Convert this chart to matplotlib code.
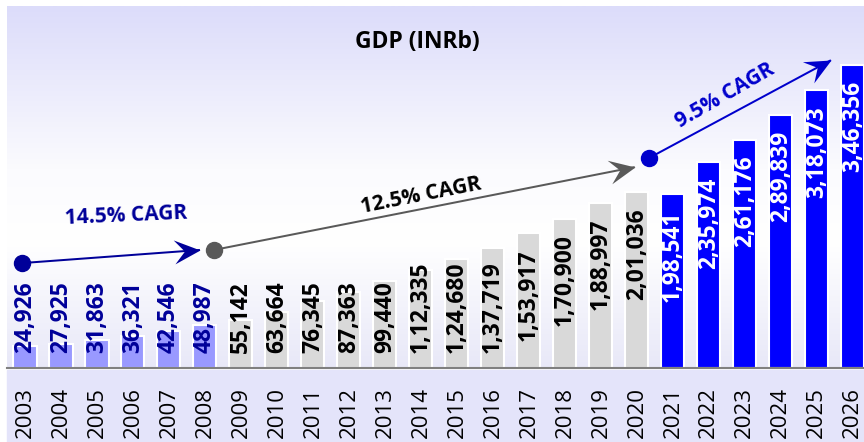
import numpy as np
import matplotlib
matplotlib.use("Agg")
import matplotlib.pyplot as plt
from matplotlib.colors import LinearSegmentedColormap
from matplotlib.path import Path
from matplotlib.patches import Rectangle

years = list(range(2003, 2027))
gdp = [24926, 27925, 31863, 36321, 42546, 48987, 55142, 63664, 76345, 87363,
       99440, 112335, 124680, 137719, 153917, 170900, 188997, 201036,
       198541, 235974, 261176, 289839, 318073, 346356]
# indian digit grouping as printed on the chart
labels = ["24,926", "27,925", "31,863", "36,321", "42,546", "48,987", "55,142",
          "63,664", "76,345", "87,363", "99,440", "1,12,335", "1,24,680",
          "1,37,719", "1,53,917", "1,70,900", "1,88,997", "2,01,036",
          "1,98,541", "2,35,974", "2,61,176", "2,89,839", "3,18,073", "3,46,356"]
period = ["early"] * 6 + ["mid"] * 12 + ["late"] * 6

bar_colors = {"early": "#9999ff", "mid": "#d9d9d9", "late": "#0000ff"}
text_colors = {"early": "#000099", "mid": "black", "late": "white"}

# CAGR arrows: (start index, start value, end index, end value)
cagr_arrows = [
    (-0.08, 120000, 4.86, 135000, "#000099"),
    (5.25, 135000, 16.94, 229800, "#595959"),
    (17.33, 240000, 22.39, 352000, "#0000cc"),
]
cagr_texts = [
    ("14.5% CAGR", 2.81, 173500, 2.5, "#000099"),
    ("12.5% CAGR", 11.0, 196600, 11.2, "black"),
    ("9.5% CAGR", 19.44, 311000, 30.0, "#0000cc"),
]

W, H = 864, 442
fig = plt.figure(figsize=(W / 100, H / 100), dpi=100)
plt.rcParams["font.family"] = ["Open Sans", "DejaVu Sans"]

left, base_y, top_y = 7, 368, 6
ax = fig.add_axes([left / W, (H - base_y) / H, 1 - left / W, (base_y - top_y) / H])
ax.set_xlim(-0.5, 23.31)
ax.set_ylim(0, 414000)

# background gradient above the axis and band below it
bg = LinearSegmentedColormap.from_list(
    "bg", [(0, "#e8e8f8"), (0.35, "#ffffff"), (0.55, "#fbfbfe"), (1, "#dcdcfa")])
grad = np.linspace(0, 1, 256).reshape(-1, 1)
ax.imshow(grad, cmap=bg, aspect="auto", extent=(-0.5, 23.31, 0, 414000),
          origin="lower", zorder=0)
band = Rectangle((left / W, 0), 1, (H - base_y - 2) / H,
                 transform=fig.transFigure, color="#e4e4fa", zorder=-1)
fig.patches.append(band)

x = np.arange(len(years))
ax.bar(x, gdp, width=0.64, color=[bar_colors[p] for p in period],
       edgecolor="white", linewidth=1.5, zorder=2)

for s in ["top", "left", "right"]:
    ax.spines[s].set_visible(False)
ax.spines["bottom"].set_color("#808080")
ax.spines["bottom"].set_linewidth(1.5)
ax.spines["bottom"].set_zorder(3)
ax.set_yticks([])
ax.set_xticks(x)
ax.set_xticklabels([str(y) for y in years], rotation=90, fontsize=16)
ax.tick_params(axis="x", length=0, pad=14)

fig.text(417 / W, 1 - 42 / H, "GDP (INRb)", ha="center", va="center",
         fontsize=16.5, fontweight="bold")

# value labels: inside the top of the bar, but never lower than the floor
px = 72 / 100
fig.canvas.draw()
renderer = fig.canvas.get_renderer()
floor = ax.transData.transform((0, 0))[1] + 15
for i, (v, lab, p) in enumerate(zip(gdp, labels, period)):
    t = ax.annotate(lab, (i, v), xytext=(0, -16 * px), textcoords="offset points",
                    rotation=90, ha="center", va="top", fontsize=16.5,
                    fontweight="bold", color=text_colors[p], zorder=4)
    bb = t.get_window_extent(renderer)
    if bb.y0 < floor:
        t.xy = (i, 0)
        t.set_position((0, 15 * px))
        t.set_va("bottom")

# arrows
L, Wd = 26, 24
for x0, y0, x1, y1, c in cagr_arrows:
    ax.plot([x0, x1], [y0, y1], color=c, lw=2 * px, zorder=5, solid_capstyle="butt")
    ax.plot([x0], [y0], "o", color=c, ms=16 * px, zorder=6)
    (dx0, dy0), (dx1, dy1) = ax.transData.transform([(x0, y0), (x1, y1)])
    ang = np.arctan2(dy1 - dy0, dx1 - dx0)
    head = np.array([(0, 0), (-L, Wd / 2), (-0.6 * L, 0), (-L, -Wd / 2), (0, 0)])
    rot = np.array([[np.cos(ang), -np.sin(ang)], [np.sin(ang), np.cos(ang)]])
    verts = head @ rot.T
    m = np.abs(verts).max()
    ax.plot([x1], [y1], marker=Path(verts, closed=True), color=c,
            ms=2 * m * px, mew=0, zorder=6)

for txt, tx, ty, rot_deg, c in cagr_texts:
    ax.text(tx, ty, txt, rotation=rot_deg, rotation_mode="anchor", ha="center",
            va="center", fontsize=15, fontweight="bold", color=c, zorder=6)

fig.savefig("out.png", dpi=100)
